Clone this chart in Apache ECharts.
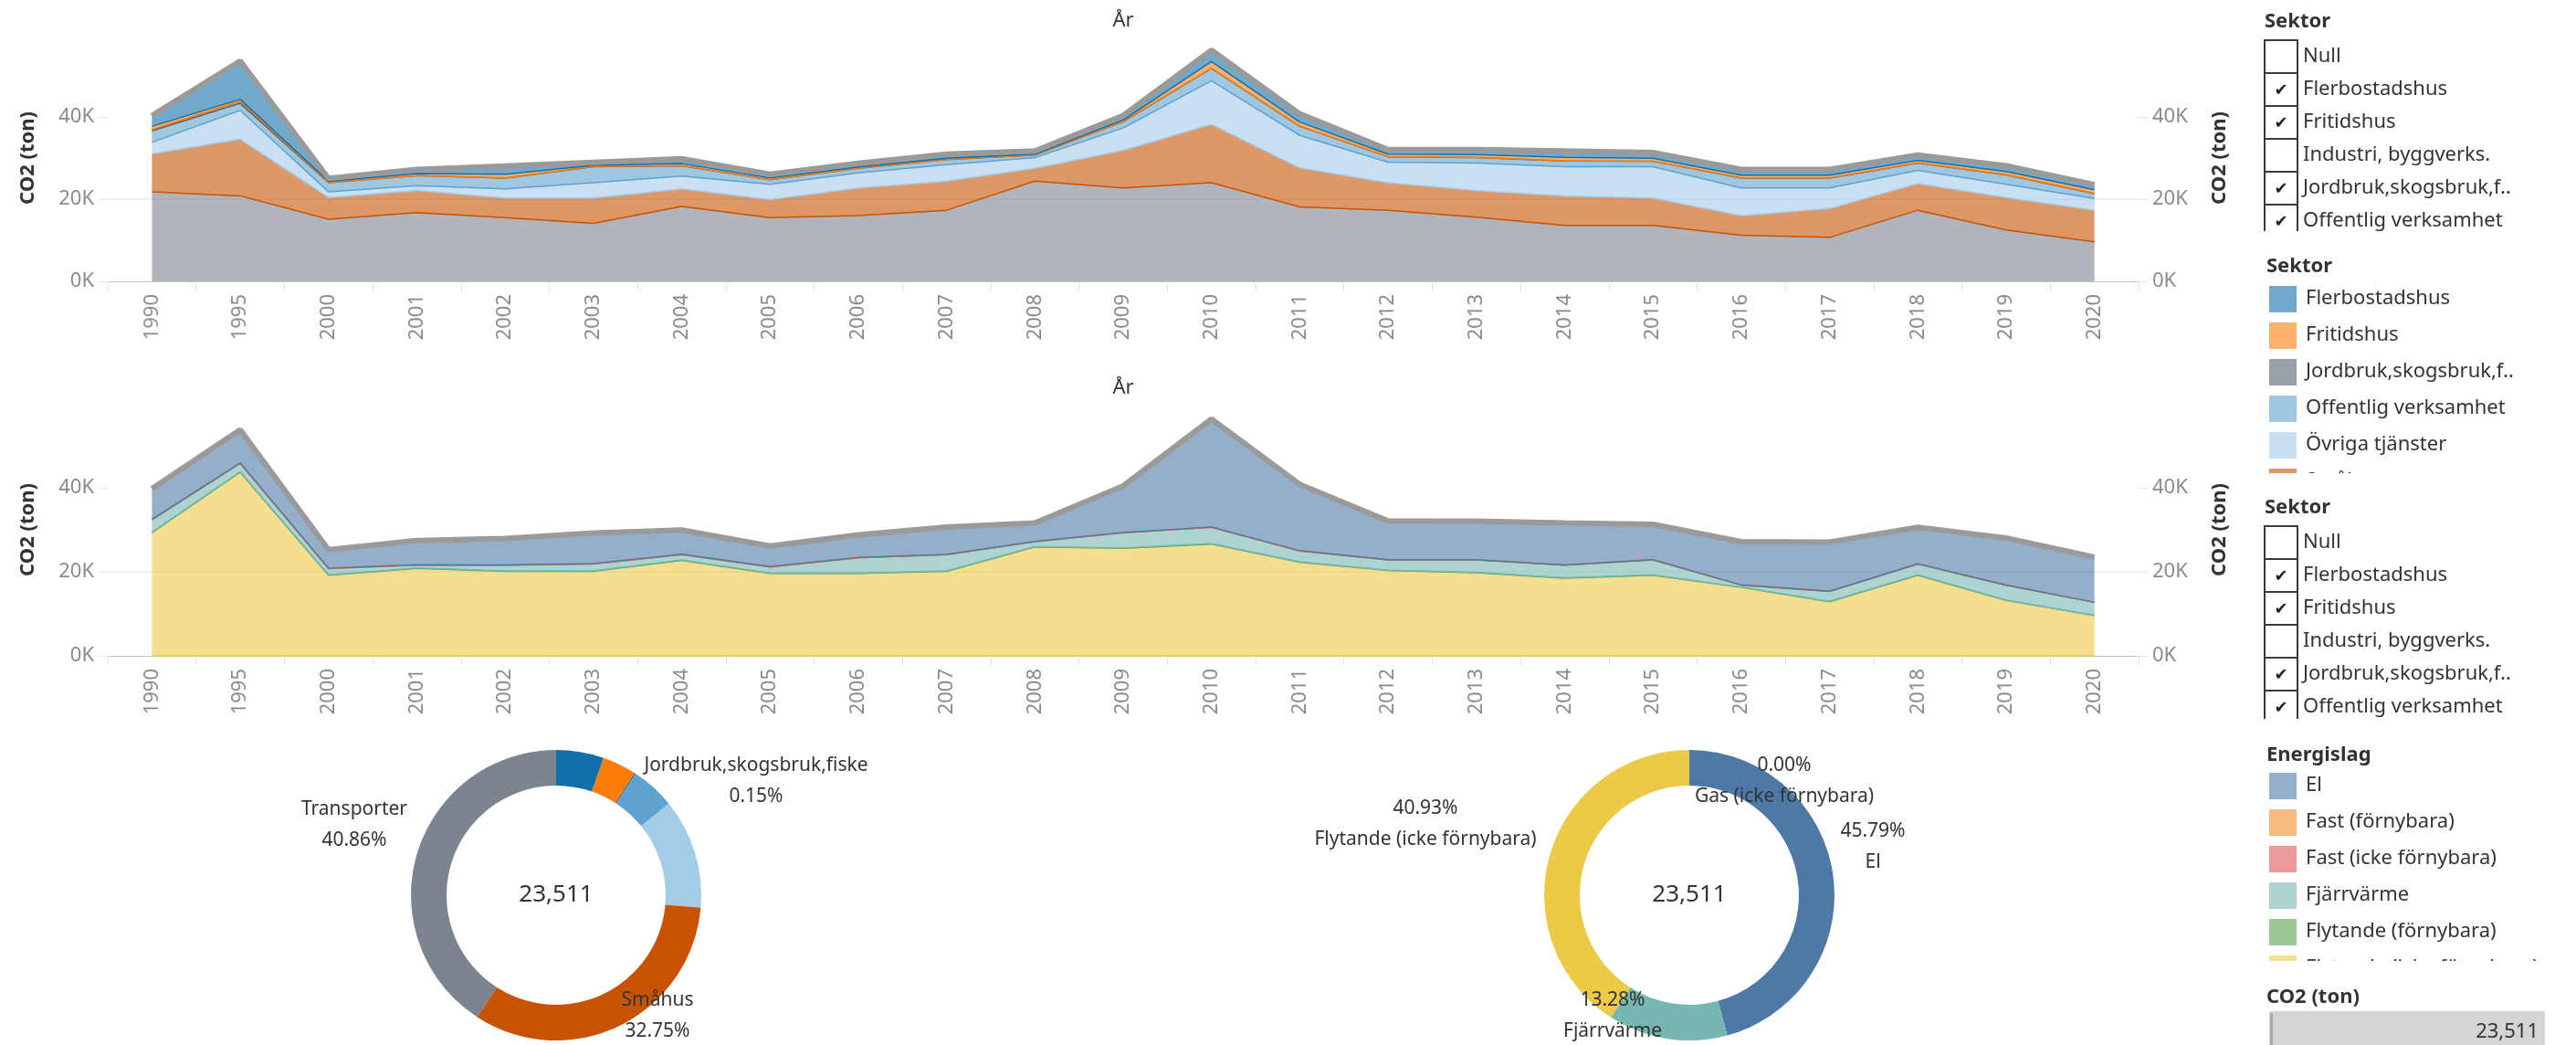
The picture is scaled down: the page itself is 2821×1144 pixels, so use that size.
<!DOCTYPE html>
<html>
<head>
<meta charset="utf-8">
<script src="https://cdn.jsdelivr.net/npm/echarts@6.0.0/dist/echarts.min.js"></script>
<style>
  html, body { margin: 0; padding: 0; background: #fff; }
  #chart { width: 2821px; height: 1144px; }
</style>
</head>
<body>
<div id="chart"></div>
<script>
// years on the x axis
const years = ['1990', '1995', '2000', '2001', '2002', '2003', '2004', '2005', '2006', '2007', '2008',
  '2009', '2010', '2011', '2012', '2013', '2014', '2015', '2016', '2017', '2018', '2019', '2020'];

// CO2 (ton) per sektor
const transporter = [21800, 20800, 15100, 16700, 15500, 14100, 18200, 15500, 16000, 17300, 24400, 22700, 24000, 18100, 17300, 15600, 13600, 13600, 11200, 10700, 17300, 12500, 9607];
const smahus = [9200, 13800, 5300, 5400, 4800, 6200, 4300, 4400, 6700, 7100, 3100, 9200, 14200, 9500, 6700, 6500, 7200, 6700, 4800, 7000, 6500, 7900, 7700];
const ovrigaTjanster = [2800, 7000, 1400, 1200, 2200, 3700, 3100, 3700, 3700, 4000, 2600, 5400, 10600, 7900, 5000, 6700, 7100, 7600, 6700, 5000, 3200, 3200, 2878];
const offentlig = [2800, 1700, 2200, 2400, 2600, 3900, 2500, 1100, 1100, 1200, 600, 1500, 3000, 2200, 1300, 1300, 1400, 1300, 2400, 2400, 1800, 2300, 1152];
const jordbruk = [300, 600, 40, 40, 50, 40, 40, 40, 40, 40, 40, 40, 60, 60, 40, 40, 40, 40, 40, 40, 40, 40, 35];
const fritidshus = [800, 400, 300, 500, 900, 300, 500, 400, 300, 300, 200, 400, 1600, 1000, 600, 700, 800, 700, 700, 700, 600, 800, 893];
const flerbostadshus = [2600, 9300, 700, 1000, 2000, 700, 1200, 900, 900, 1000, 800, 1100, 2800, 2000, 1100, 1200, 1600, 1400, 1400, 1400, 1300, 1400, 1246];

// CO2 (ton) per energislag
const gas = [0, 0, 0, 0, 0, 0, 0, 0, 0, 0, 0, 0, 0, 0, 0, 0, 0, 0, 0, 0, 0, 0, 0];
const flytandeIcke = [29300, 43700, 19200, 20800, 20100, 20100, 22700, 19600, 19600, 20100, 25900, 25600, 26600, 22300, 20300, 19800, 18500, 19200, 16300, 12900, 19200, 13200, 9623];
const flytandeForn = [150, 130, 110, 100, 100, 110, 120, 100, 90, 110, 100, 120, 130, 110, 90, 80, 100, 90, 70, 80, 90, 60, 0];
const fjarrvarme = [2900, 1950, 1450, 650, 1350, 1650, 1250, 1450, 3650, 3850, 1150, 3550, 3850, 2550, 2450, 2950, 2950, 3550, 450, 2350, 2550, 3550, 3122];
const fastIcke = [80, 70, 60, 60, 50, 50, 50, 50, 40, 40, 40, 40, 40, 40, 30, 30, 30, 30, 30, 30, 30, 20, 0];
const fastForn = [70, 60, 50, 50, 50, 40, 40, 40, 40, 40, 40, 40, 40, 30, 30, 30, 30, 30, 30, 30, 30, 20, 0];
const el = [7300, 7900, 4400, 5800, 6300, 7300, 5800, 4900, 5400, 6500, 4400, 11100, 25700, 15800, 9200, 9200, 10000, 8400, 10300, 11700, 8700, 11200, 10766];

// y tick values
const yTicks = [0, 20000, 40000];

// filter lists in the side panel
const sektorFilter = ['Null', 'Flerbostadshus', 'Fritidshus', 'Industri, byggverks.', 'Jordbruk,skogsbruk,f..', 'Offentlig verksamhet'];
const sektorChecked = [false, true, true, false, true, true];

const FONT = 'Noto Sans';
const TXT = '#333';

// stacked bottom -> top
const sektorSeries = [
  { name: 'Transporter', data: transporter, color: '#7b848f' },
  { name: 'Småhus', data: smahus, color: '#c85200' },
  { name: 'Övriga tjänster', data: ovrigaTjanster, color: '#a3cce9' },
  { name: 'Offentlig verksamhet', data: offentlig, color: '#5fa2ce' },
  { name: 'Jordbruk,skogsbruk,fiske', data: jordbruk, color: '#57606c' },
  { name: 'Fritidshus', data: fritidshus, color: '#fc7d0b' },
  { name: 'Flerbostadshus', data: flerbostadshus, color: '#1170aa' },
];
const energiSeries = [
  { name: 'Gas (icke förnybara)', data: gas, color: '#b07aa1' },
  { name: 'Flytande (icke förnybara)', data: flytandeIcke, color: '#edc948' },
  { name: 'Flytande (förnybara)', data: flytandeForn, color: '#59a14f' },
  { name: 'Fjärrvärme', data: fjarrvarme, color: '#76b7b2' },
  { name: 'Fast (icke förnybara)', data: fastIcke, color: '#e15759' },
  { name: 'Fast (förnybara)', data: fastForn, color: '#f28e2b' },
  { name: 'El', data: el, color: '#4e79a7' },
];

function sumByYear(list) {
  return years.map((y, i) => list.reduce((s, d) => s + d.data[i], 0));
}

function fade(hex, a) {
  const n = parseInt(hex.slice(1), 16);
  const r = n >> 16, g = (n >> 8) & 255, b = n & 255;
  const m = c => Math.round(c * a + 255 * (1 - a));
  return 'rgb(' + m(r) + ',' + m(g) + ',' + m(b) + ')';
}

function stackSeries(list, xi, yi, stack) {
  return list.map((s, k) => ({
    name: s.name,
    type: 'line',
    stack: stack,
    xAxisIndex: xi,
    yAxisIndex: yi,
    data: s.data,
    symbol: 'none',
    silent: true,
    // line on the top edge takes the colour of the layer above
    lineStyle: { color: k + 1 < list.length ? list[k + 1].color : '#999', width: 1.5 },
    areaStyle: { color: s.color, opacity: 0.6 },
    itemStyle: { color: s.color },
    z: 2,
  }));
}

function totalLine(list, xi, yi) {
  return {
    type: 'line',
    xAxisIndex: xi,
    yAxisIndex: yi,
    data: sumByYear(list),
    symbol: 'none',
    silent: true,
    lineStyle: { color: '#9a9a9a', width: 6 },
    z: 3,
  };
}

function xAxis(gi) {
  return {
    type: 'category',
    gridIndex: gi,
    data: years,
    boundaryGap: true,
    axisLine: { lineStyle: { color: '#b5b5b5', type: 'dotted', width: 1 } },
    axisTick: { show: true, length: 10, lineStyle: { color: '#e2e2e2' } },
    axisLabel: { rotate: 90, interval: 0, color: '#8a8a8a', fontSize: 22, margin: 14, fontFamily: FONT },
  };
}

function yAxis(gi, pos) {
  return {
    type: 'value',
    gridIndex: gi,
    position: pos,
    min: 0,
    max: 60000,
    interval: 20000,
    name: 'CO2 (ton)',
    nameLocation: 'middle',
    nameGap: pos === 'left' ? 76 : 78,
    nameRotate: 90,
    nameTextStyle: { color: TXT, fontSize: 22, fontWeight: 'bold', fontFamily: FONT },
    axisLine: { show: false },
    axisTick: { show: true, length: 10, customValues: yTicks, lineStyle: { color: '#e6e6e6' } },
    axisLabel: {
      customValues: yTicks, color: '#8a8a8a', fontSize: 22, margin: 15, fontFamily: FONT,
      formatter: v => (v / 1000) + 'K',
    },
    splitLine: {
      show: pos === 'left', showMinLine: false, showMaxLine: false,
      lineStyle: { color: '#efefef', width: 2 },
    },
  };
}

// donut data = last year, legend order
const byName = (a, b) => a.name.localeCompare(b.name, 'en');
const last = years.length - 1;
const sektorPie = sektorSeries.slice().sort(byName)
  .map(s => ({ name: s.name, value: s.data[last], itemStyle: { color: s.color } }));
const energiPie = energiSeries.slice().sort(byName)
  .map(s => ({ name: s.name, value: s.data[last], itemStyle: { color: s.color } }));
const total2020 = sumByYear(sektorSeries)[last];

// label offsets from donut centre (Tableau places only some labels)
const sektorLabelPos = { 'Jordbruk,skogsbruk,fiske': [219, -125], 'Småhus': [111, 132], 'Transporter': [-221, -77] };
const energiLabelPos = { 'Gas (icke förnybara)': [104, -125], 'El': [201, -53], 'Fjärrvärme': [-84, 132], 'Flytande (icke förnybara)': [-289, -78] };

function pie(data, center, labelPos, nameFirst) {
  return {
    type: 'pie',
    center: center,
    radius: [120, 159],
    startAngle: 90,
    avoidLabelOverlap: false,
    silent: true,
    data: data.map(d => Object.assign({}, d, { label: { show: !!labelPos[d.name] } })),
    label: {
      position: 'outside',
      color: TXT,
      fontSize: 21,
      lineHeight: 34,
      fontFamily: FONT,
      formatter: p => nameFirst ? p.name + '\n' + p.percent.toFixed(2) + '%' : p.percent.toFixed(2) + '%\n' + p.name,
    },
    labelLine: { show: false },
    labelLayout: p => {
      const o = labelPos[data[p.dataIndex].name] || [0, 0];
      return { x: center[0] + o[0], y: center[1] + o[1], align: 'center', verticalAlign: 'middle' };
    },
  };
}

// side panel
const panel = [];
function txt(x, y, s, size, weight, align) {
  panel.push({
    type: 'text', x: x, y: y, z: 10,
    style: {
      text: s, fill: TXT, font: (weight || 'normal') + ' ' + size + 'px "' + FONT + '"',
      textAlign: align || 'left', textVerticalAlign: 'middle',
    },
  });
}
// white band hides the part of a list that is scrolled out of view
function cover(y1, y2) {
  panel.push({ type: 'rect', z: 50, shape: { x: 2460, y: y1, width: 361, height: y2 - y1 }, style: { fill: '#fff' } });
}
function checkList(y0, cutY, endY) {
  sektorFilter.forEach((name, i) => {
    const y = y0 + 36 * i;
    panel.push({ type: 'rect', z: 10, shape: { x: 2480, y: y, width: 36, height: 36 }, style: { fill: '#fff', stroke: '#3a3a3a', lineWidth: 2 } });
    if (sektorChecked[i]) {
      panel.push({ type: 'text', z: 11, x: 2498, y: y + 19, style: { text: '✔', fill: '#222', font: '18px "DejaVu Sans"', textAlign: 'center', textVerticalAlign: 'middle' } });
    }
    txt(2522, y + 18, name, 22);
  });
  cover(cutY, endY);
}
function swatchList(y0, items, cutY, endY) {
  items.forEach((it, i) => {
    const cy = y0 + 40 * i;
    if (cy - 14 >= cutY) return;
    panel.push({ type: 'rect', z: 10, shape: { x: 2485, y: cy - 14, width: 30, height: 29 }, style: { fill: fade(it.itemStyle.color, 0.6) } });
    txt(2525, cy, it.name === 'Jordbruk,skogsbruk,fiske' ? 'Jordbruk,skogsbruk,f..' : it.name, 22);
  });
  cover(cutY, endY);
}

checkList(44, 253, 268);
swatchList(327, sektorPie, 518, 542);
checkList(576, 787, 806);
swatchList(860, energiPie, 1052, 1076);
txt(2480, 24, 'Sektor', 22, 'bold');
txt(2482, 292, 'Sektor', 22, 'bold');
txt(2480, 556, 'Sektor', 22, 'bold');
txt(2482, 827, 'Energislag', 22, 'bold');
txt(2482, 1092, 'CO2 (ton)', 22, 'bold');
panel.push({ type: 'rect', z: 60, shape: { x: 2485, y: 1107, width: 302, height: 40 }, style: { fill: '#d4d4d4' } });
panel.push({ type: 'rect', z: 61, shape: { x: 2486, y: 1109, width: 3, height: 38, r: 2 }, style: { fill: '#aaa' } });
panel.push({
  type: 'text', z: 62, x: 2780, y: 1130,
  style: { text: total2020.toLocaleString('en-US'), fill: TXT, font: '22px "' + FONT + '"', textAlign: 'right', textVerticalAlign: 'middle' },
});

// titles and donut centres
txt(1230, 23, 'År', 22, 'normal', 'center');
txt(1230, 425, 'År', 22, 'normal', 'center');
txt(609, 980, total2020.toLocaleString('en-US'), 26, 'normal', 'center');
txt(1850, 980, total2020.toLocaleString('en-US'), 26, 'normal', 'center');

const chart = echarts.init(document.getElementById('chart'));

const option = {
  animation: false,
  backgroundColor: '#fff',
  textStyle: { fontFamily: FONT },
  grid: [
    { left: 118, width: 2224, top: 38, height: 270 },
    { left: 118, width: 2224, top: 442, height: 276 },
  ],
  xAxis: [xAxis(0), xAxis(1)],
  yAxis: [yAxis(0, 'left'), yAxis(0, 'right'), yAxis(1, 'left'), yAxis(1, 'right')],
  series: [
    ...stackSeries(sektorSeries, 0, 0, 'sektor'),
    totalLine(sektorSeries, 0, 1),
    ...stackSeries(energiSeries, 1, 2, 'energi'),
    totalLine(energiSeries, 1, 3),
    pie(sektorPie, [609, 980], sektorLabelPos, true),
    pie(energiPie, [1850, 980], energiLabelPos, false),
  ],
  graphic: panel,
};

chart.setOption(option);
</script>
</body>
</html>
